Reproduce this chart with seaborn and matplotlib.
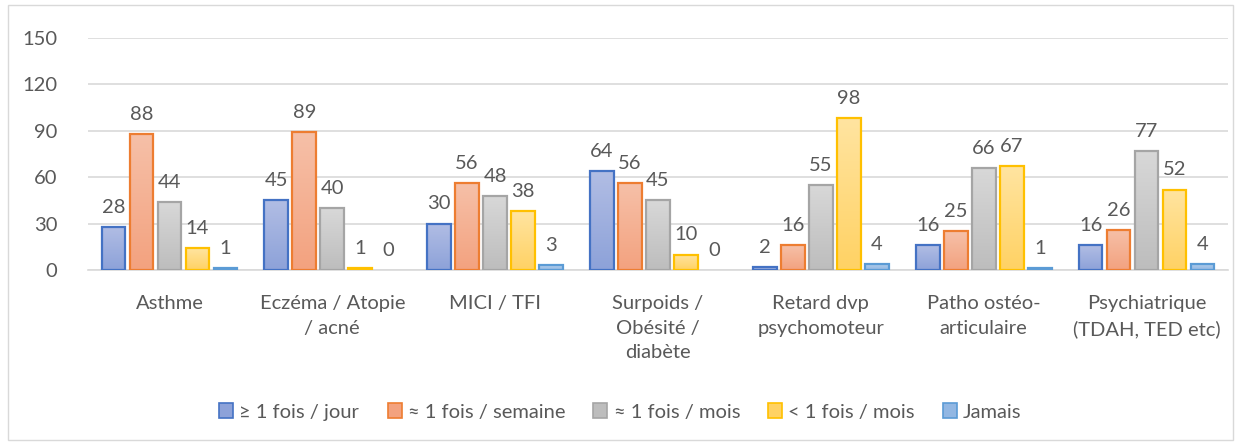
import numpy as np
import pandas as pd
import matplotlib.pyplot as plt
import matplotlib.colors as mcolors
from matplotlib.patches import Rectangle
import seaborn as sns

# Data
categories = [
    "Asthme",
    "Eczéma / Atopie\n/ acné",
    "MICI / TFI",
    "Surpoids /\nObésité /\ndiabète",
    "Retard dvp\npsychomoteur",
    "Patho ostéo-\narticulaire",
    "Psychiatrique\n(TDAH, TED etc)",
]
series = ["≥ 1 fois / jour", "≈ 1 fois / semaine", "≈ 1 fois / mois", "< 1 fois / mois", "Jamais"]
par_jour = [28, 45, 30, 64, 2, 16, 16]
par_semaine = [88, 89, 56, 56, 16, 25, 26]
par_mois = [44, 40, 48, 45, 55, 66, 77]
moins_mois = [14, 1, 38, 10, 98, 67, 52]
jamais = [1, 0, 3, 0, 4, 1, 4]

# edge colour, gradient top, gradient bottom
STYLE = {
    series[0]: ("#4472C4", "#B1BDE4", "#8DA2D9"),
    series[1]: ("#ED7D31", "#F6C0A8", "#F3A27F"),
    series[2]: ("#A5A5A5", "#D8D8D8", "#BDBDBD"),
    series[3]: ("#FFC000", "#FFE4A0", "#FFD264"),
    series[4]: ("#5B9BD5", "#B4CFEC", "#92B7E3"),
}
TXT = "#595959"

df = pd.DataFrame({
    "cat": np.repeat(categories, len(series)),
    "serie": series * len(categories),
    "val": np.array([par_jour, par_semaine, par_mois, moins_mois, jamais]).T.ravel(),
})

sns.set_style("white")
plt.rcParams["font.family"] = ["Lato", "DejaVu Sans"]

fig = plt.figure(figsize=(12.41, 4.45), dpi=100)
ax = fig.add_axes([88 / 1241, 1 - 270 / 445, 1140 / 1241, 232 / 445])

palette = {s: STYLE[s][0] for s in series}
sns.barplot(data=df, x="cat", y="val", hue="serie", hue_order=series, order=categories,
            palette=palette, width=0.86, gap=0.15, ax=ax, legend=False, errorbar=None)

# gradient fills like the Excel original
grad = np.linspace(0, 1, 64).reshape(-1, 1)
for container, s in zip(ax.containers, series):
    edge, top, bottom = STYLE[s]
    cmap = mcolors.LinearSegmentedColormap.from_list(s, [bottom, top])
    for bar in container:
        x0, y0 = bar.get_x(), bar.get_y()
        w, h = bar.get_width(), bar.get_height()
        bar.set_facecolor("none")
        bar.set_edgecolor(edge)
        bar.set_linewidth(1.6 if h > 0 else 0)
        bar.set_zorder(3)
        if h > 0:
            ax.imshow(grad, cmap=cmap, aspect="auto", origin="lower",
                      extent=(x0, x0 + w, y0, y0 + h), zorder=2)
    ax.bar_label(container, padding=8, fontsize=14.5, color=TXT)

ax.set_xlim(-0.5, len(categories) - 0.5)
ax.set_ylim(0, 150)
ax.set_yticks(np.arange(0, 151, 30))

ax.grid(axis="y", color="#D9D9D9", linewidth=1.2, zorder=0)
ax.set_axisbelow(True)
for side in ["top", "right", "left"]:
    ax.spines[side].set_visible(False)
ax.spines["bottom"].set_color("#D9D9D9")
ax.spines["bottom"].set_linewidth(1.2)
ax.tick_params(axis="both", length=0, colors=TXT, labelsize=14.5)
ax.tick_params(axis="x", pad=18)
ax.tick_params(axis="y", pad=22)
ax.set_xlabel("")
ax.set_ylabel("")
for lbl in ax.get_xticklabels():
    lbl.set_linespacing(1.55)

handles = [Rectangle((0, 0), 1, 1, facecolor=STYLE[s][2], edgecolor=STYLE[s][0], linewidth=1.2)
           for s in series]
fig.legend(handles, series, loc="center", bbox_to_anchor=(0.5, 1 - 412 / 445), ncol=5,
           frameon=False, fontsize=14.5, labelcolor=TXT, handlelength=0.7, handleheight=0.7,
           handletextpad=0.3, columnspacing=1.4)

fig.patches.append(Rectangle((8 / 1241, 5 / 445), 1225 / 1241, 435 / 445, transform=fig.transFigure,
                             fill=False, edgecolor="#D9D9D9", linewidth=1))

fig.savefig("out.png", dpi=100)
